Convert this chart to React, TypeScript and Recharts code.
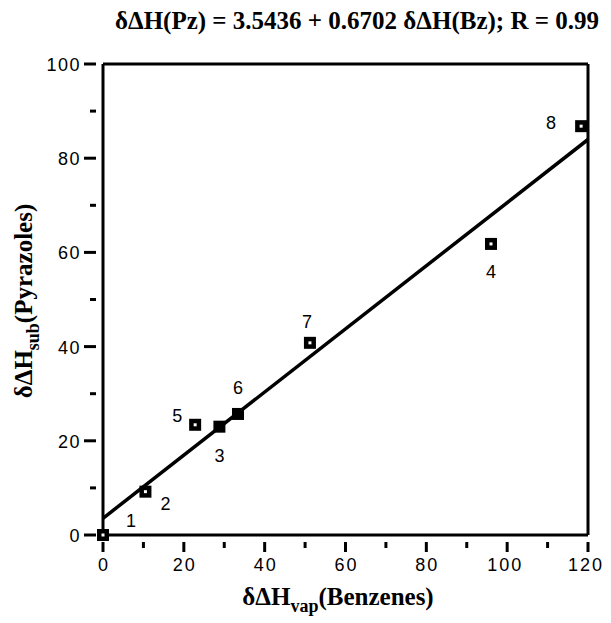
import React from 'react';
import { ComposedChart, XAxis, YAxis, Scatter, ReferenceLine } from 'recharts';

// ---- data ----
const compoundLabels = ['1', '2', '3', '4', '5', '6', '7', '8'];
const benzeneValues = [0, 10.5, 28.8, 96.0, 22.8, 33.4, 51.2, 118.3];
const pyrazoleValues = [0, 9.2, 23.0, 61.8, 23.4, 25.7, 40.8, 86.8];
const fitLineX = [0, 120];
const fitLineY = [3.5436, 83.97];
const xTicks = [0, 10, 20, 30, 40, 50, 60, 70, 80, 90, 100, 110, 120];
const yTicks = [0, 10, 20, 30, 40, 50, 60, 70, 80, 90, 100];
const titleText = 'δΔH(Pz) = 3.5436 + 0.6702 δΔH(Bz); R = 0.99';

// ---- styling (label offsets per compound) ----
const labelOffsets: Record<string, [number, number]> = {
  '1': [28, -14],
  '2': [20, 12],
  '3': [0, 29],
  '4': [0, 28],
  '5': [-18, -9],
  '6': [0, -26],
  '7': [-3, -21],
  '8': [-30, -3],
};
const solidMarkers: Record<string, boolean> = { '6': true, '3': true };

const points = compoundLabels.map((label, i) => ({
  label,
  x: benzeneValues[i],
  y: pyrazoleValues[i],
}));

const W = 603;
const H = 615;
const sans = '"Liberation Sans", Arial, sans-serif';
const serif = '"Liberation Serif", "Times New Roman", serif';

const XTick = (props: any) => {
  const { x, y, payload } = props;
  const v = payload.value as number;
  const major = v % 20 === 0;
  return (
    <g>
      <line x1={x} x2={x} y1={y - 1} y2={y + (major ? 9 : 5)} stroke="#000" strokeWidth={3} />
      {major && (
        <text
          x={x + 1 - (v >= 100 ? 3 : 0)}
          y={y + 28}
          textAnchor="middle"
          fontFamily={sans}
          fontSize={18}
          letterSpacing={2}
          fill="#000"
        >
          {v}
        </text>
      )}
    </g>
  );
};

const YTick = (props: any) => {
  const { x, y, payload } = props;
  const v = payload.value as number;
  const major = v % 20 === 0;
  return (
    <g>
      <line x1={x + 1} x2={x - (major ? 11 : 5)} y1={y} y2={y} stroke="#000" strokeWidth={3} />
      {major && (
        <text
          x={x - 14}
          y={y + 7}
          textAnchor="end"
          fontFamily={sans}
          fontSize={18}
          letterSpacing={1.5}
          fill="#000"
        >
          {v}
        </text>
      )}
    </g>
  );
};

const Marker = (props: any) => {
  const { cx, cy, payload } = props;
  const s = 12;
  const lab = payload.label as string;
  const off = labelOffsets[lab] || [0, 0];
  return (
    <g>
      <rect x={cx - s / 2} y={cy - s / 2} width={s} height={s} fill="#000" />
      {!solidMarkers[lab] && (
        <rect x={cx - 1.5} y={cy - 1.5} width={3} height={3} fill="#fff" />
      )}
      <text
        x={cx + off[0]}
        y={cy + off[1] + 6}
        textAnchor="middle"
        fontFamily={sans}
        fontSize={18}
        fill="#000"
      >
        {lab}
      </text>
    </g>
  );
};

export default function App() {
  return (
    <div style={{ position: 'relative', width: W, height: H, background: '#fff' }}>
      <div
        style={{
          position: 'absolute',
          left: 349,
          top: -2,
          transform: 'translateX(-50%)',
          whiteSpace: 'nowrap',
          fontFamily: serif,
          fontSize: 25,
          fontWeight: 'bold',
          lineHeight: '30px',
          color: '#000',
        }}
      >
        {titleText}
      </div>
      <ComposedChart
        width={W}
        height={H}
        margin={{ top: 56, right: 23, bottom: 48, left: 55 }}
        data={points}
      >
        <XAxis
          type="number"
          dataKey="x"
          domain={[0, 120]}
          ticks={xTicks}
          interval={0}
          height={40}
          axisLine={{ stroke: '#000', strokeWidth: 3 }}
          tickLine={false}
          tick={<XTick />}
        />
        <YAxis
          type="number"
          dataKey="y"
          domain={[0, 100]}
          ticks={yTicks}
          interval={0}
          width={40}
          axisLine={{ stroke: '#000', strokeWidth: 3 }}
          tickLine={false}
          tick={<YTick />}
        />
        <ReferenceLine y={100} stroke="#000" strokeWidth={3} ifOverflow="visible" />
        <ReferenceLine x={120} stroke="#000" strokeWidth={3} ifOverflow="visible" />
        <ReferenceLine
          segment={[
            { x: fitLineX[0], y: fitLineY[0] },
            { x: fitLineX[1], y: fitLineY[1] },
          ]}
          stroke="#000"
          strokeWidth={3.5}
          ifOverflow="visible"
        />
        <Scatter data={points} dataKey="y" shape={<Marker />} isAnimationActive={false} />
      </ComposedChart>
      <div
        style={{
          position: 'absolute',
          left: 330,
          top: 574,
          transform: 'translateX(-50%)',
          whiteSpace: 'nowrap',
          fontFamily: serif,
          fontSize: 25,
          fontWeight: 'bold',
          lineHeight: '30px',
          color: '#000',
        }}
      >
        δΔH<sub style={{ fontSize: 18, verticalAlign: '-7px', lineHeight: 0 }}>vap</sub>(Benzenes)
      </div>
      <div
        style={{
          position: 'absolute',
          left: 16,
          top: 293,
          transform: 'translate(-50%, -50%) rotate(-90deg)',
          whiteSpace: 'nowrap',
          fontFamily: serif,
          fontSize: 25,
          fontWeight: 'bold',
          lineHeight: '30px',
          color: '#000',
        }}
      >
        δΔH<sub style={{ fontSize: 18, verticalAlign: '-7px', lineHeight: 0 }}>sub</sub>(Pyrazoles)
      </div>
    </div>
  );
}
